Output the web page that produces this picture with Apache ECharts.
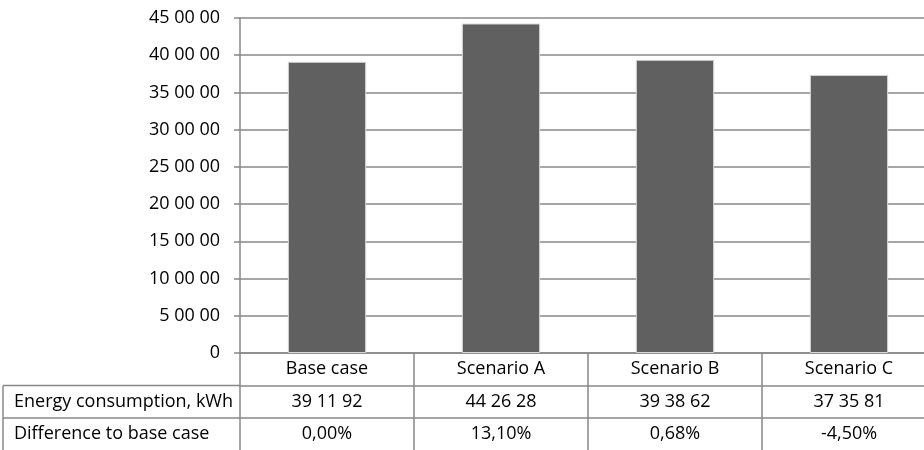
<!DOCTYPE html>
<html lang="en">
<head>
    <meta charset="UTF-8">
    <title>Energy consumption</title>
    <script src="https://cdn.jsdelivr.net/npm/echarts@6/dist/echarts.min.js"></script>
    <style>
        html, body { margin: 0; padding: 0; background: #fff; }
        #app { width: 924px; height: 450px; }
    </style>
</head>
<body>
    <div id="app"></div>
    <script>
        // data
        const categories = ['Base case', 'Scenario A', 'Scenario B', 'Scenario C'];
        const energy = [391192, 442628, 393862, 373581];
        const difference = ['0,00%', '13,10%', '0,68%', '-4,50%'];
        const rowLabels = ['Energy consumption, kWh', 'Difference to base case'];

        const font = 'Open Sans';
        const fontSize = 18;
        const gray = '#888888';

        // layout
        const gridLeft = 240, gridTop = 18, gridBottom = 97, gridRight = -12;
        const rowH = 32.5;

        // "45 00 00" style: space every two digits from the right
        function fmt(v) {
            let s = String(Math.round(v));
            let out = '';
            while (s.length > 2) {
                out = ' ' + s.slice(-2) + out;
                s = s.slice(0, -2);
            }
            return s + out;
        }

        var myChart = echarts.init(document.getElementById('app'));

        const labelBase = {
            color: '#000',
            fontFamily: font,
            fontSize: fontSize,
            margin: 0,
            lineHeight: rowH,
            interval: 0
        };

        var option = {
            animation: false,
            textStyle: { fontFamily: font },
            grid: {
                left: gridLeft, top: gridTop, right: gridRight, bottom: gridBottom,
                containLabel: false, outerBoundsMode: 'none'
            },
            xAxis: [
                {
                    type: 'category',
                    position: 'bottom',
                    data: categories,
                    axisLine: { show: true, lineStyle: { color: gray, width: 1.5 } },
                    axisTick: { show: true, interval: 0, length: gridBottom, lineStyle: { color: gray, width: 1.5 } },
                    axisLabel: Object.assign({}, labelBase)
                },
                {
                    type: 'category',
                    position: 'bottom',
                    data: categories,
                    offset: rowH,
                    axisLine: { show: true, lineStyle: { color: gray, width: 1.5 } },
                    axisTick: { show: false },
                    axisLabel: Object.assign({}, labelBase, {
                        formatter: (v, i) => fmt(energy[i])
                    })
                },
                {
                    type: 'category',
                    position: 'bottom',
                    data: categories,
                    offset: rowH * 2,
                    axisLine: { show: true, lineStyle: { color: gray, width: 1.5 } },
                    axisTick: { show: false },
                    axisLabel: Object.assign({}, labelBase, {
                        formatter: (v, i) => difference[i]
                    })
                }
            ],
            yAxis: {
                type: 'value',
                min: 0,
                max: 450000,
                interval: 50000,
                axisLine: { show: true, lineStyle: { color: gray, width: 1.5 } },
                axisTick: { show: true, length: 6, lineStyle: { color: gray, width: 1.5 } },
                splitLine: { show: true, lineStyle: { color: gray, width: 1.5 } },
                axisLabel: {
                    color: '#000',
                    fontFamily: font,
                    fontSize: fontSize,
                    margin: 20,
                    formatter: fmt
                }
            },
            series: [
                {
                    type: 'bar',
                    data: energy,
                    xAxisIndex: 0,
                    barWidth: '45%',
                    itemStyle: { color: '#606060', borderColor: '#d8d8d8', borderWidth: 1 }
                }
            ]
        };

        myChart.setOption(option);

        // left header column of the data table
        const H = myChart.getHeight();
        const axisY = H - gridBottom;
        const tableLeft = 3;
        const ls = { stroke: gray, lineWidth: 1.5 };
        const graphics = [
            { type: 'line', shape: { x1: tableLeft, y1: axisY + rowH, x2: gridLeft, y2: axisY + rowH }, style: ls },
            { type: 'line', shape: { x1: tableLeft, y1: axisY + rowH * 2, x2: gridLeft, y2: axisY + rowH * 2 }, style: ls },
            { type: 'line', shape: { x1: tableLeft, y1: axisY + rowH, x2: tableLeft, y2: H }, style: ls }
        ];
        rowLabels.forEach((t, i) => {
            graphics.push({
                type: 'text',
                x: tableLeft + 11,
                y: axisY + rowH * (i + 1) + rowH / 2,
                style: {
                    text: t,
                    fill: '#000',
                    font: fontSize + 'px ' + font,
                    verticalAlign: 'middle',
                    align: 'left'
                }
            });
        });
        myChart.setOption({ graphic: graphics });
    </script>
</body>
</html>
